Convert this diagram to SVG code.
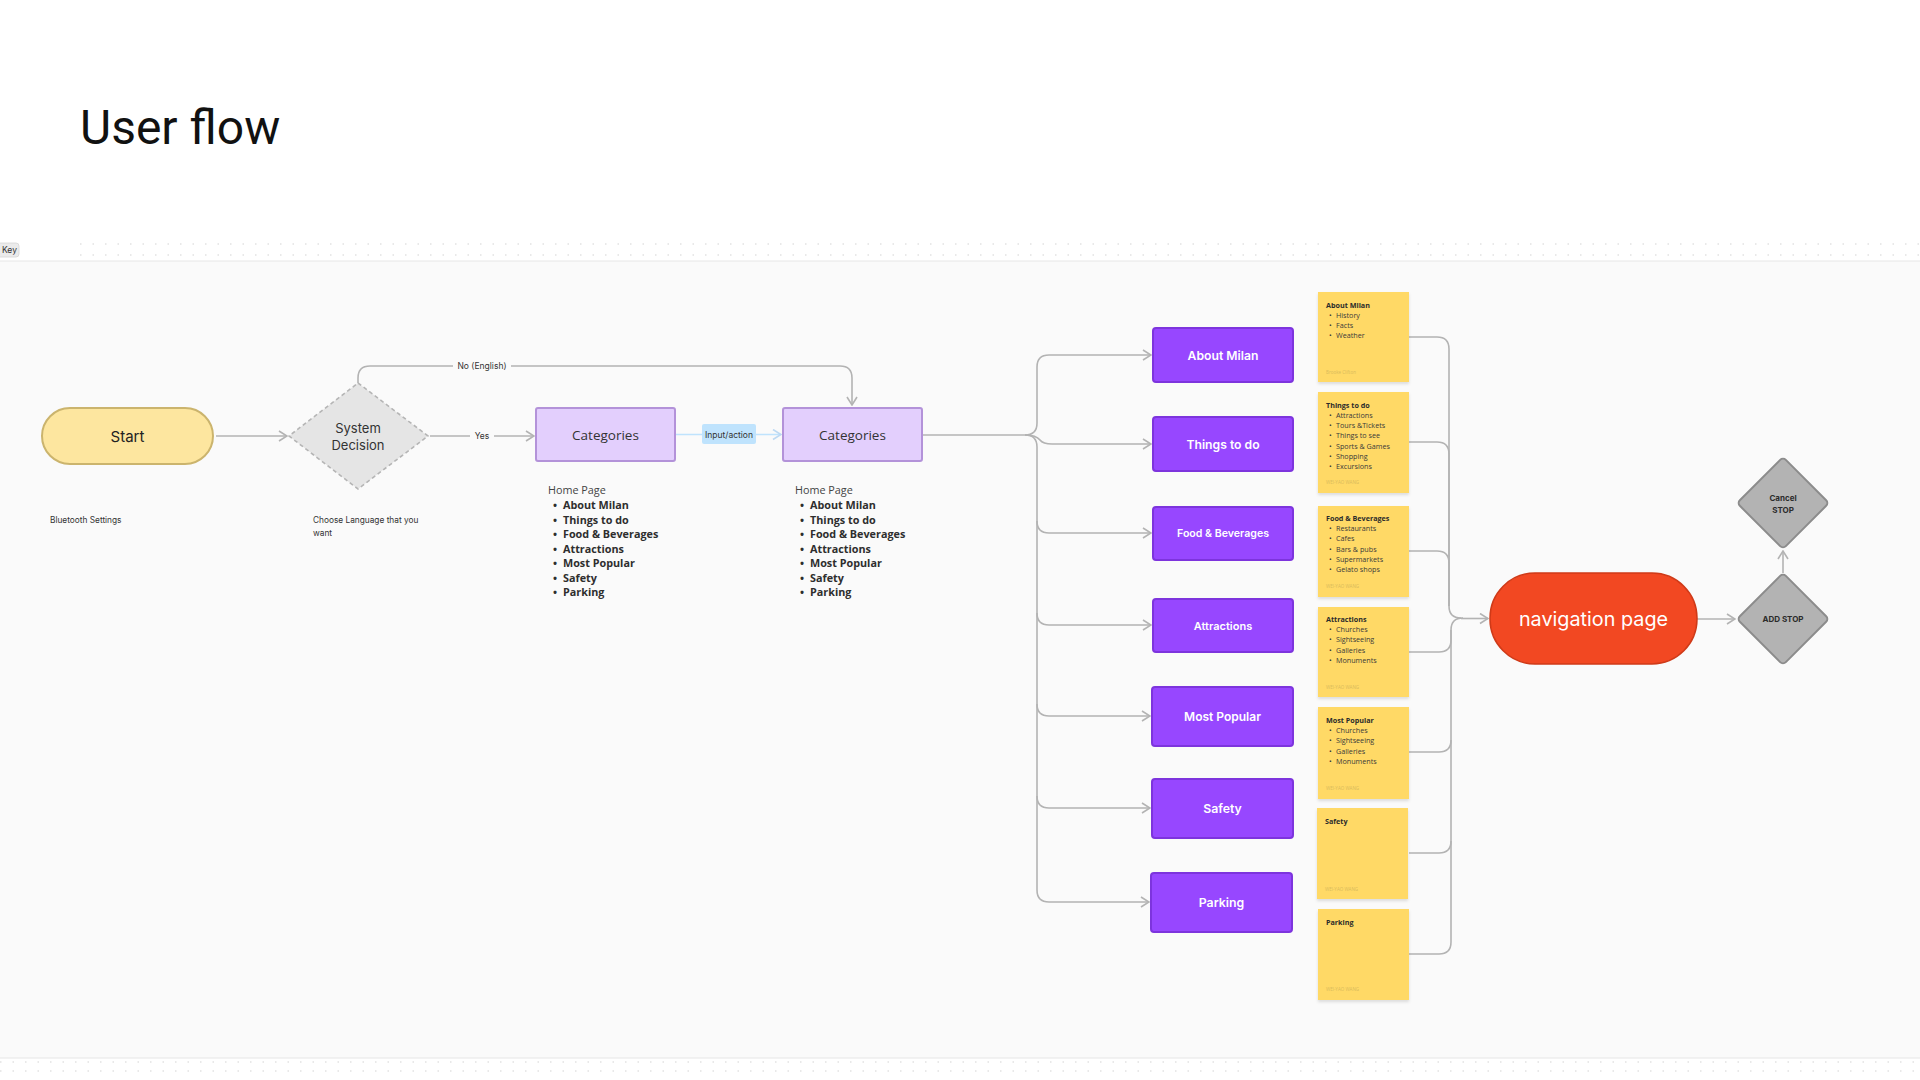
<svg xmlns="http://www.w3.org/2000/svg" width="1920" height="1080" viewBox="0 0 1920 1080">
<style>
.conn{fill:none;stroke:#b3b3b3;stroke-width:1.6}
.arr{marker-end:url(#ah)}
.lbl{font-family:Inter,"Noto Sans",sans-serif;font-size:8.5px;fill:#333;text-anchor:middle;dominant-baseline:central}
.note{fill:#ffd966;filter:url(#sh)}
.nt{font-family:"Open Sans","Noto Sans",sans-serif;font-size:7.2px;font-weight:700;fill:#2b2b2b}
.ni{font-family:"Open Sans","Noto Sans",sans-serif;font-size:7.2px;fill:#3a3a3a}
.na{font-family:"Open Sans",sans-serif;font-size:4.5px;fill:#d9b95c}
.pn{fill:#9747ff;stroke:#7d34dd;stroke-width:2}
.pt{font-family:Inter,"Noto Sans",sans-serif;font-weight:600;fill:#fff;text-anchor:middle;dominant-baseline:central}
.cat{fill:#e3cffd;stroke:#b392d9;stroke-width:2}
.ct{font-family:"Open Sans","Noto Sans",sans-serif;font-size:13.5px;fill:#333;text-anchor:middle;dominant-baseline:central}
.hp{font-family:"Open Sans","Noto Sans",sans-serif;font-size:10.8px;fill:#444}
.hb{font-family:"Open Sans","Noto Sans",sans-serif;font-size:10.8px;font-weight:700;fill:#2e2e2e}
.sm{font-family:Inter,"Noto Sans",sans-serif;font-size:8.3px;fill:#333}
.gd{fill:#b3b3b3;stroke:#8c8c8c;stroke-width:2}
.gt{font-family:Inter,"Noto Sans",sans-serif;font-size:8px;font-weight:700;fill:#2b2b2b;text-anchor:middle;dominant-baseline:central}
.dots{stroke:#e2e2e2;stroke-width:1.5;stroke-dasharray:1.5 11}
</style>
<defs>
<marker id="ah" viewBox="0 0 10 12" refX="9" refY="6" markerWidth="10" markerHeight="12" markerUnits="userSpaceOnUse" orient="auto">
<path d="M1,1 L9,6 L1,11" fill="none" stroke="#b3b3b3" stroke-width="1.6"/>
</marker>
<marker id="ahb" viewBox="0 0 10 12" refX="9" refY="6" markerWidth="10" markerHeight="12" markerUnits="userSpaceOnUse" orient="auto">
<path d="M1,1 L9,6 L1,11" fill="none" stroke="#bdd9f2" stroke-width="1.6"/>
</marker>
<filter id="sh" x="-10%" y="-10%" width="130%" height="130%">
<feDropShadow dx="0" dy="2" stdDeviation="1.5" flood-color="#000" flood-opacity="0.12"/>
</filter>
</defs>

<rect x="0" y="0" width="1920" height="1080" fill="#ffffff"/>
<line class="dots" x1="80" y1="244" x2="1920" y2="244"/>
<line class="dots" x1="80" y1="255" x2="1920" y2="255"/>
<line class="dots" x1="0" y1="1062" x2="1920" y2="1062"/>
<line class="dots" x1="0" y1="1071" x2="1920" y2="1071"/>
<rect x="0" y="261" width="1920" height="797" fill="#fafafa"/>
<line x1="0" y1="261" x2="1920" y2="261" stroke="#e6e6e6" stroke-width="1"/>
<line x1="0" y1="1058" x2="1920" y2="1058" stroke="#e6e6e6" stroke-width="1"/>

<text x="80" y="144" font-family="Roboto,'Liberation Sans',sans-serif" font-size="48" fill="#111">User flow</text>

<g id="key">
<rect x="-4" y="243" width="23" height="14" rx="3" fill="#ebebeb" stroke="#d6d6d6" stroke-width="0.8"/>
<text x="2" y="250" font-family="Inter,sans-serif" font-size="8.5" fill="#333" dominant-baseline="central">Key</text>
</g>

<g id="connectors">
<path class="conn arr" d="M216,436 H287"/>
<path class="conn arr" d="M358,383 V378 Q358,366 370,366 H840 Q852,366 852,378 V405"/>
<path class="conn arr" d="M430,436 H534"/>
<path fill="none" stroke="#bfe3fd" stroke-width="1.6" marker-end="url(#ahb)" d="M675,434.5 H781"/>
<path class="conn" d="M923,435 H1025"/>
<path class="conn arr" d="M1025,435 Q1037,435 1037,423 V367 Q1037,355 1049,355 H1151"/>
<path class="conn arr" stroke-width="3" d="M1025,435 Q1036,435 1040,440 Q1043,444 1052,444 H1151"/>
<path class="conn arr" d="M1025,435 Q1037,435 1037,447 V521 Q1037,533 1049,533 H1151"/>
<path class="conn arr" d="M1037,521 V613 Q1037,625 1049,625 H1151"/>
<path class="conn arr" d="M1037,613 V704 Q1037,716 1049,716 H1150"/>
<path class="conn arr" d="M1037,704 V796 Q1037,808 1049,808 H1150"/>
<path class="conn arr" d="M1037,796 V890 Q1037,902 1049,902 H1149"/>

<path class="conn" d="M1409,337 H1437 Q1449,337 1449,349 V606 Q1449,618 1461,618"/>
<path class="conn" d="M1409,442 H1437 Q1449,442 1449,454 V606"/>
<path class="conn" d="M1409,551 H1437 Q1449,551 1449,563 V606"/>
<path class="conn" d="M1409,652 H1439 Q1451,652 1451,640 V630 Q1451,618 1463,618"/>
<path class="conn" d="M1409,752 H1439 Q1451,752 1451,740 V630"/>
<path class="conn" d="M1409,853 H1439 Q1451,853 1451,841 V740"/>
<path class="conn" d="M1409,954 H1439 Q1451,954 1451,942 V841"/>
<path class="conn arr" d="M1461,618.5 H1488"/>
<path class="conn arr" d="M1697,619 H1735"/>
<path class="conn arr" d="M1783,573 V551"/>

<rect x="453" y="359" width="58" height="14" fill="#fafafa"/>
<text class="lbl" x="482" y="366">No (English)</text>
<rect x="470" y="429" width="24" height="14" fill="#fafafa"/>
<text class="lbl" x="482" y="436">Yes</text>
<rect x="702" y="424" width="54" height="20" rx="2" fill="#bfe3fd"/>
<text class="lbl" x="729" y="434.5" font-size="9">Input/action</text>
</g>

<g id="start">
<rect x="42" y="408" width="171" height="56" rx="28" fill="#fde69f" stroke="#cbb46d" stroke-width="2"/>
<text x="127.5" y="436" font-family="Inter,'Noto Sans',sans-serif" font-size="15" fill="#222" text-anchor="middle" dominant-baseline="central">Start</text>
<text class="sm" x="50" y="520" dominant-baseline="central">Bluetooth Settings</text>
</g>

<g id="decision">
<path d="M358,383 L428,436 L358,489 L289,436 Z" fill="#e5e5e5" stroke="#b5b5b5" stroke-width="1.6" stroke-dasharray="4 3"/>
<text x="358" y="428" font-family="Inter,'Noto Sans',sans-serif" font-size="13" fill="#333" text-anchor="middle" dominant-baseline="central">System</text>
<text x="358" y="444.5" font-family="Inter,'Noto Sans',sans-serif" font-size="13" fill="#333" text-anchor="middle" dominant-baseline="central">Decision</text>
<text class="sm" x="313" y="520" dominant-baseline="central">Choose Language that you</text>
<text class="sm" x="313" y="532.5" dominant-baseline="central">want</text>
</g>

<g id="categories1">
<rect class="cat" x="536" y="408" width="139" height="53" rx="2"/>
<text class="ct" x="605.5" y="434.5">Categories</text>
<text class="hp" x="548" y="494">Home Page</text>
<g class="hb">
<text x="553" y="509">•</text><text x="563" y="509">About Milan</text>
<text x="553" y="523.5">•</text><text x="563" y="523.5">Things to do</text>
<text x="553" y="538">•</text><text x="563" y="538">Food &amp; Beverages</text>
<text x="553" y="552.5">•</text><text x="563" y="552.5">Attractions</text>
<text x="553" y="567">•</text><text x="563" y="567">Most Popular</text>
<text x="553" y="581.5">•</text><text x="563" y="581.5">Safety</text>
<text x="553" y="596">•</text><text x="563" y="596">Parking</text>
</g>
</g>

<g id="categories2">
<rect class="cat" x="783" y="408" width="139" height="53" rx="2"/>
<text class="ct" x="852.5" y="434.5">Categories</text>
<text class="hp" x="795" y="494">Home Page</text>
<g class="hb">
<text x="800" y="509">•</text><text x="810" y="509">About Milan</text>
<text x="800" y="523.5">•</text><text x="810" y="523.5">Things to do</text>
<text x="800" y="538">•</text><text x="810" y="538">Food &amp; Beverages</text>
<text x="800" y="552.5">•</text><text x="810" y="552.5">Attractions</text>
<text x="800" y="567">•</text><text x="810" y="567">Most Popular</text>
<text x="800" y="581.5">•</text><text x="810" y="581.5">Safety</text>
<text x="800" y="596">•</text><text x="810" y="596">Parking</text>
</g>
</g>

<g id="about-milan"><rect class="pn" x="1153" y="328" width="140" height="54" rx="3"/><text class="pt" x="1223" y="355" font-size="12.2">About Milan</text></g>
<g id="things-to-do"><rect class="pn" x="1153" y="417" width="140" height="54" rx="3"/><text class="pt" x="1223" y="444" font-size="12.2">Things to do</text></g>
<g id="food-beverages"><rect class="pn" x="1153" y="507" width="140" height="53" rx="3"/><text class="pt" x="1223" y="533.5" font-size="10.6">Food &amp; Beverages</text></g>
<g id="attractions"><rect class="pn" x="1153" y="599" width="140" height="53" rx="3"/><text class="pt" x="1223" y="625.5" font-size="11">Attractions</text></g>
<g id="most-popular"><rect class="pn" x="1152" y="687" width="141" height="59" rx="3"/><text class="pt" x="1222.5" y="716.5" font-size="12">Most Popular</text></g>
<g id="safety"><rect class="pn" x="1152" y="779" width="141" height="59" rx="3"/><text class="pt" x="1222.5" y="808.5" font-size="12.3">Safety</text></g>
<g id="parking"><rect class="pn" x="1151" y="873" width="141" height="59" rx="3"/><text class="pt" x="1221.5" y="902.5" font-size="12.3">Parking</text></g>

<g id="note-about-milan">
<rect class="note" x="1318" y="292" width="91" height="90"/>
<text class="nt" x="1326" y="307.5">About Milan</text>
<g class="ni"><text x="1329" y="317.5">•</text><text x="1336" y="317.5">History</text>
<text x="1329" y="328">•</text><text x="1336" y="328">Facts</text>
<text x="1329" y="338">•</text><text x="1336" y="338">Weather</text></g>
<text class="na" x="1326" y="373.5">Brooke Clifton</text>
</g>
<g id="note-things-to-do">
<rect class="note" x="1318" y="392" width="91" height="101"/>
<text class="nt" x="1326" y="407.5">Things to do</text>
<g class="ni"><text x="1329" y="417.5">•</text><text x="1336" y="417.5">Attractions</text>
<text x="1329" y="428">•</text><text x="1336" y="428">Tours &amp;Tickets</text>
<text x="1329" y="438.2">•</text><text x="1336" y="438.2">Things to see</text>
<text x="1329" y="448.5">•</text><text x="1336" y="448.5">Sports &amp; Games</text>
<text x="1329" y="458.7">•</text><text x="1336" y="458.7">Shopping</text>
<text x="1329" y="469">•</text><text x="1336" y="469">Excursions</text></g>
<text class="na" x="1326" y="483.5">WEI-YAO WANG</text>
</g>
<g id="note-food-beverages">
<rect class="note" x="1318" y="506" width="91" height="91"/>
<text class="nt" x="1326" y="520.5">Food &amp; Beverages</text>
<g class="ni"><text x="1329" y="531">•</text><text x="1336" y="531">Restaurants</text>
<text x="1329" y="541.3">•</text><text x="1336" y="541.3">Cafes</text>
<text x="1329" y="551.5">•</text><text x="1336" y="551.5">Bars &amp; pubs</text>
<text x="1329" y="561.8">•</text><text x="1336" y="561.8">Supermarkets</text>
<text x="1329" y="572">•</text><text x="1336" y="572">Gelato shops</text></g>
<text class="na" x="1326" y="587.5">WEI-YAO WANG</text>
</g>
<g id="note-attractions">
<rect class="note" x="1318" y="607" width="91" height="90"/>
<text class="nt" x="1326" y="621.5">Attractions</text>
<g class="ni"><text x="1329" y="632">•</text><text x="1336" y="632">Churches</text>
<text x="1329" y="642.3">•</text><text x="1336" y="642.3">Sightseeing</text>
<text x="1329" y="652.5">•</text><text x="1336" y="652.5">Galleries</text>
<text x="1329" y="662.8">•</text><text x="1336" y="662.8">Monuments</text></g>
<text class="na" x="1326" y="688.5">WEI-YAO WANG</text>
</g>
<g id="note-most-popular">
<rect class="note" x="1318" y="707" width="91" height="92"/>
<text class="nt" x="1326" y="722.5">Most Popular</text>
<g class="ni"><text x="1329" y="733">•</text><text x="1336" y="733">Churches</text>
<text x="1329" y="743.3">•</text><text x="1336" y="743.3">Sightseeing</text>
<text x="1329" y="753.5">•</text><text x="1336" y="753.5">Galleries</text>
<text x="1329" y="763.8">•</text><text x="1336" y="763.8">Monuments</text></g>
<text class="na" x="1326" y="789.5">WEI-YAO WANG</text>
</g>
<g id="note-safety">
<rect class="note" x="1317" y="808" width="91" height="91"/>
<text class="nt" x="1325" y="823.5">Safety</text>
<text class="na" x="1325" y="890.5">WEI-YAO WANG</text>
</g>
<g id="note-parking">
<rect class="note" x="1318" y="909" width="91" height="91"/>
<text class="nt" x="1326" y="924.5">Parking</text>
<text class="na" x="1326" y="990.5">WEI-YAO WANG</text>
</g>

<g id="navigation-page">
<rect x="1490" y="573" width="207" height="91" rx="45" fill="#f24822" stroke="#cf3a18" stroke-width="1.5"/>
<text x="1593.5" y="619" font-family="Inter,'Noto Sans',sans-serif" font-size="19.8" fill="#fff" text-anchor="middle" dominant-baseline="central">navigation page</text>
</g>
<g id="add-stop">
<rect class="gd" x="-32.5" y="-32.5" width="65" height="65" rx="4" transform="translate(1783,619) rotate(45)"/>
<text class="gt" x="1783" y="619">ADD STOP</text>
</g>
<g id="cancel-stop">
<rect class="gd" x="-32.5" y="-32.5" width="65" height="65" rx="4" transform="translate(1783,503) rotate(45)"/>
<text class="gt" x="1783" y="497.5">Cancel</text>
<text class="gt" x="1783" y="509.5">STOP</text>
</g>
</svg>
